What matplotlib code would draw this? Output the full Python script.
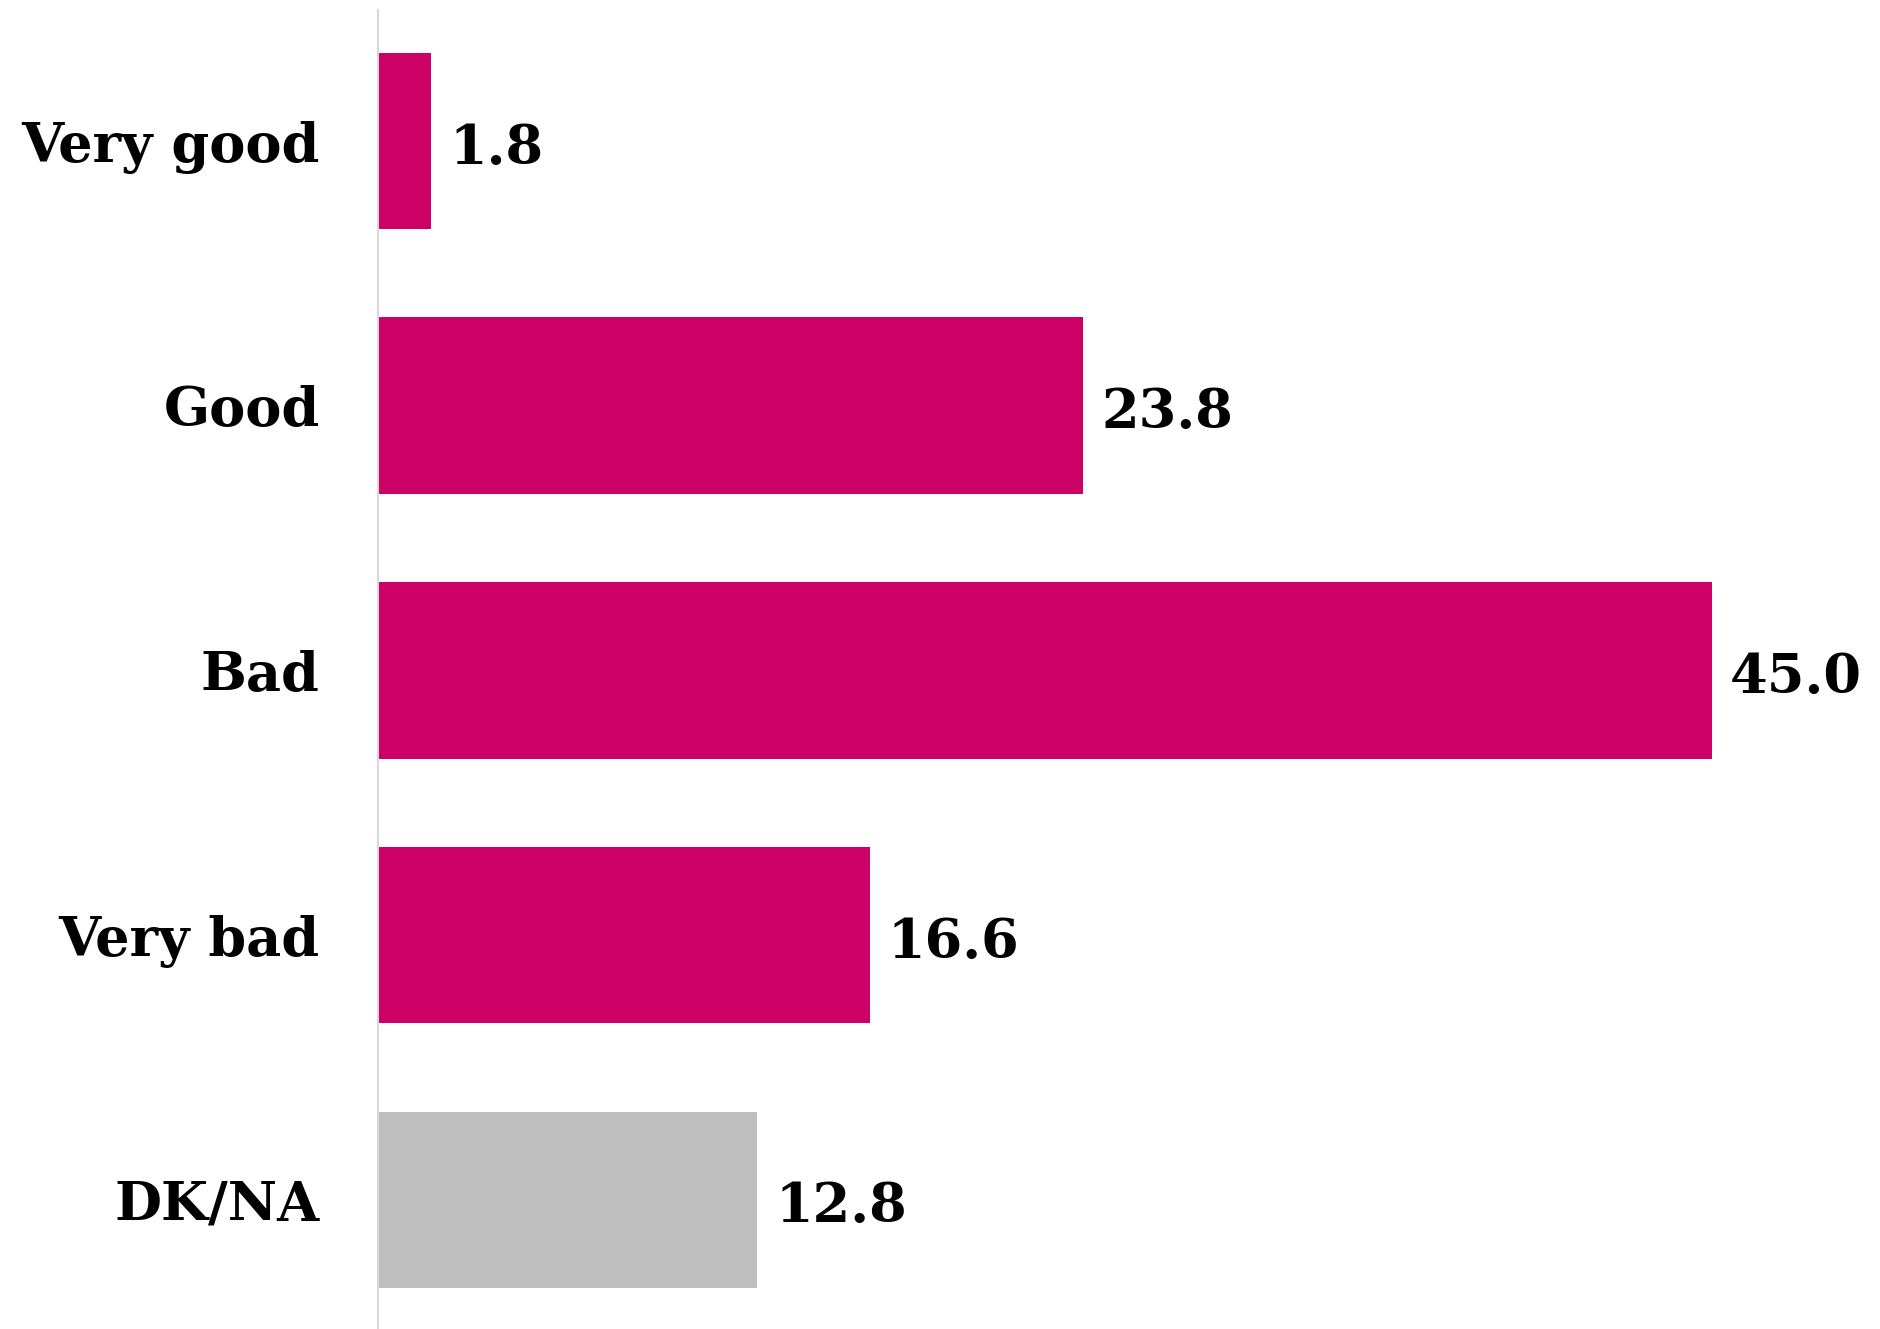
import matplotlib.pyplot as plt

categories = ["Very good", "Good", "Bad", "Very bad", "DK/NA"]
values = [1.8, 23.8, 45.0, 16.6, 12.8]
colors = ["#CC0066", "#CC0066", "#CC0066", "#CC0066", "#BFBFBF"]

plt.rcParams['font.family'] = ['DejaVu Serif']

fig = plt.figure(figsize=(18.8, 13.29), dpi=100)
ax = fig.add_axes([378 / 1880, 0, 1 - 378 / 1880, 1])

pos = list(range(len(categories)))
ax.barh(pos, values, height=0.667, color=colors)

ax.set_xlim(0, 50.67)
ax.set_ylim(4.488, -0.533)

# value labels, centred on the bar by their cap height
for y, v in zip(pos, values):
    ax.text(v + 0.6, y + 0.085, f"{v:.1f}", va='baseline', ha='left',
            fontsize=39, fontweight='bold')

ax.set_yticks(pos)
ax.set_yticklabels(categories, fontsize=39, fontweight='bold')
ax.tick_params(axis='y', length=0, pad=42)
ax.set_xticks([])

for s in ['top', 'right', 'bottom']:
    ax.spines[s].set_visible(False)
ax.spines['left'].set_color('#D9D9D9')
ax.spines['left'].set_linewidth(1.5)
ax.spines['left'].set_bounds(4.488, -0.495)

fig.savefig("out.png", dpi=100)
